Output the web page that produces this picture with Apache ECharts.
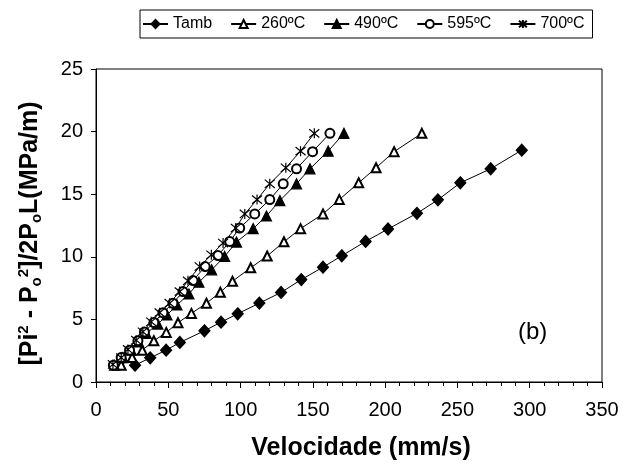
<!DOCTYPE html>
<html>
<head>
<meta charset="utf-8">
<script src="https://cdn.jsdelivr.net/npm/echarts@6/dist/echarts.min.js"></script>
<style>html,body{margin:0;padding:0;background:#fff}#c{width:632px;height:466px}</style>
</head>
<body>
<div id="c"></div>
<script>
var seriesNames = ['Tamb', '260ºC', '490ºC', '595ºC', '700ºC'];
var xTamb = [27, 37.5, 48.5, 58, 75, 86.5, 98, 113, 128, 142, 157, 170, 186.5, 202, 222, 236.5, 252, 273, 294.5];
var yTamb = [1.34, 1.93, 2.54, 3.16, 4.09, 4.78, 5.45, 6.3, 7.15, 8.18, 9.17, 10.08, 11.23, 12.22, 13.47, 14.55, 15.91, 17.03, 18.52];
var x260 = [17.4, 25, 32, 40, 48.6, 56.7, 66, 76.4, 86, 94.4, 107, 118.4, 130, 141.5, 157, 168.3, 181.7, 193.7, 206.2, 225.4];
var y260 = [1.34, 1.95, 2.54, 3.29, 3.96, 4.73, 5.48, 6.29, 7.17, 8.05, 9.12, 10.06, 11.2, 12.25, 13.42, 14.57, 15.91, 17.11, 18.4, 19.86];
var x490 = [12.8, 18.6, 24.4, 29.5, 34.8, 42.8, 49.1, 56, 64.3, 71.2, 80, 89, 97.2, 108.7, 117.9, 127.2, 138.7, 148, 160.6, 171.5];
var y490 = [1.34, 1.95, 2.54, 3.2, 3.88, 4.63, 5.35, 6.15, 7.03, 7.97, 8.96, 10.03, 11.18, 12.25, 13.26, 14.49, 15.83, 17.03, 18.44, 19.86];
var x595 = [12, 17.4, 23.2, 29, 33.5, 40, 46.3, 53.2, 60.2, 67.1, 75.5, 84.4, 92.5, 99.4, 109.8, 120.2, 129.5, 138.7, 149.8, 161.8];
var y595 = [1.34, 1.95, 2.54, 3.3, 4.0, 4.75, 5.54, 6.29, 7.22, 8.1, 9.22, 10.1, 11.23, 12.3, 13.42, 14.57, 15.83, 17.03, 18.4, 19.86];
var x700 = [11.7, 17.4, 22.1, 27.8, 32.4, 38.2, 44, 50.9, 57.9, 63.6, 71.7, 79.8, 87.9, 96.7, 102.9, 111.4, 120.2, 131.3, 141.5, 151];
var y700 = [1.4, 1.95, 2.6, 3.34, 4.01, 4.81, 5.54, 6.29, 7.22, 8.08, 9.22, 10.16, 11.1, 12.3, 13.42, 14.57, 15.83, 17.11, 18.44, 19.86];

function pairs(xs, ys) { return xs.map(function (x, i) { return [x, ys[i]]; }); }

var FONT = '"Liberation Sans", Arial, sans-serif';
var asterisk = 'path://M0,0L10,10M10,0L0,10M5,-1L5,11';

var symbols = ['diamond', 'emptyTriangle', 'triangle', 'emptyCircle', asterisk];
var sizes = [[11, 12], 9, 10, 9, 10];
var datas = [pairs(xTamb, yTamb), pairs(x260, y260), pairs(x490, y490), pairs(x595, y595), pairs(x700, y700)];

var series = seriesNames.map(function (n, i) {
  return {
    name: n,
    type: 'line',
    data: datas[i],
    symbol: symbols[i],
    symbolSize: sizes[i],
    showAllSymbol: true,
    color: '#000',
    lineStyle: { color: '#000', width: 1 },
    itemStyle: { color: '#000', borderColor: '#000', borderWidth: 1.2 },
    emphasis: { disabled: true },
    animation: false
  };
});

var chart = echarts.init(document.getElementById('c'), null, { renderer: 'canvas' });
chart.setOption({
  backgroundColor: '#fff',
  animation: false,
  textStyle: { fontFamily: FONT, color: '#000' },
  title: {
    text: '(b)', left: 513, top: 315,
    textStyle: { fontFamily: FONT, fontSize: 24, fontWeight: 'normal', color: '#000' }
  },
  legend: {
    left: 140, top: 10,
    padding: [6, 8, 6, 2],
    itemGap: 18,
    itemWidth: 25,
    itemHeight: 10,
    borderColor: '#000', borderWidth: 1,
    backgroundColor: '#fff',
    textStyle: { fontFamily: FONT, fontSize: 16, color: '#000' },
    data: seriesNames
  },
  grid: {
    left: 96, right: 30, top: 69, bottom: 84,
    show: true, borderColor: '#000', borderWidth: 1, backgroundColor: 'transparent'
  },
  xAxis: {
    type: 'value', min: 0, max: 350, interval: 50,
    name: 'Velocidade (mm/s)',
    nameLocation: 'middle', nameGap: 54,
    nameTextStyle: { fontFamily: FONT, fontSize: 25, fontWeight: 'bold', color: '#000', padding: [0, 0, 0, 24] },
    axisLine: { show: true, lineStyle: { color: '#000', width: 1 } },
    axisTick: { show: true, inside: false, length: 6, lineStyle: { color: '#000' } },
    minorTick: { show: true, splitNumber: 5, length: 4, lineStyle: { color: '#000' } },
    splitLine: { show: false },
    axisLabel: { fontFamily: FONT, fontSize: 20, color: '#000', margin: 18 }
  },
  yAxis: {
    type: 'value', min: 0, max: 25, interval: 5,
    name: '[Pi{sup|2} - P{sub|o}{sup|2}]/2P{sub|o}L(MPa/m)',
    nameLocation: 'middle', nameGap: 52, nameRotate: 90,
    nameTextStyle: {
      fontFamily: FONT, fontSize: 25, fontWeight: 'bold', color: '#000', lineHeight: 28,
      padding: [0, 16, 0, 0],
      rich: {
        sup: { fontFamily: FONT, fontSize: 15, fontWeight: 'bold', color: '#000', verticalAlign: 'top', lineHeight: 28 },
        sub: { fontFamily: FONT, fontSize: 15, fontWeight: 'bold', color: '#000', verticalAlign: 'bottom', lineHeight: 28 }
      }
    },
    axisLine: { show: true, lineStyle: { color: '#000', width: 1 } },
    axisTick: { show: true, inside: false, length: 5, lineStyle: { color: '#000' } },
    splitLine: { show: false },
    axisLabel: { fontFamily: FONT, fontSize: 20, color: '#000', margin: 13 }
  },
  series: series
});
</script>
</body>
</html>
